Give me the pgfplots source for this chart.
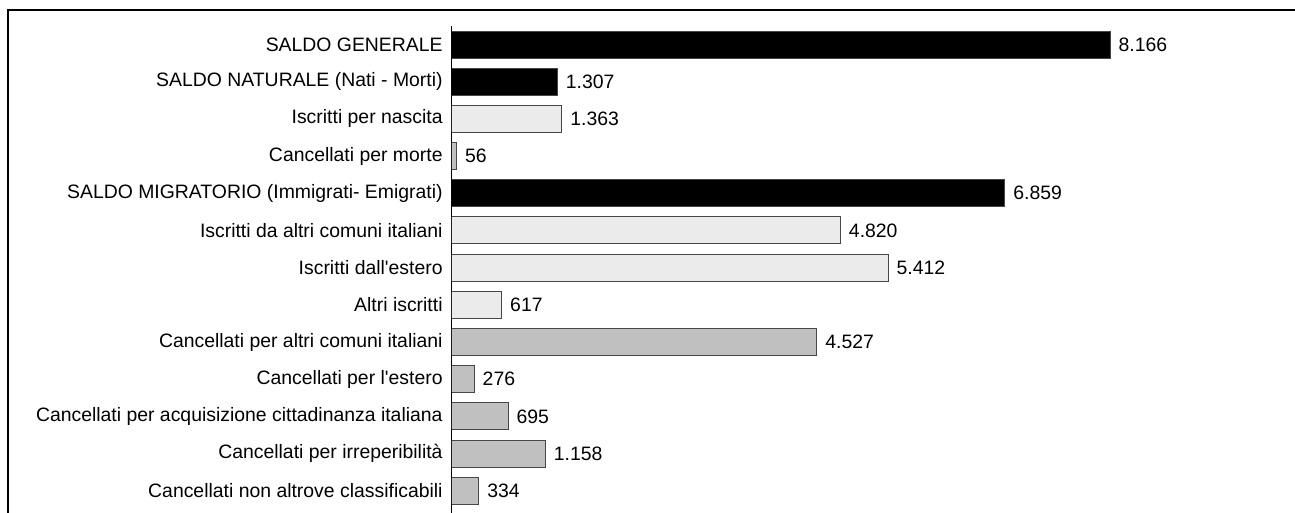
\documentclass[border=0pt]{standalone}
\usepackage{pgfplots}
\pgfplotsset{compat=1.18}
\usepackage{fontspec}
\setmainfont{Liberation Sans}[Ligatures=TeXOff]

\definecolor{chiaro}{RGB}{235,235,235}
\definecolor{medio}{RGB}{192,192,192}
\definecolor{bordo}{RGB}{70,70,70}

\begin{document}
\begin{tikzpicture}
\path[use as bounding box] (-226pt,0) rectangle (421.5pt,256.5pt);
\draw[line width=1pt] (-222pt,-1pt) -- (-222pt,251.5pt) -- (422pt,251.5pt);
\begin{axis}[
  at={(0pt,0pt)}, anchor=south west,
  scale only axis, width=403pt, height=243.5pt,
  xbar, bar width=13.5pt, bar shift=0pt,
  xmin=0, xmax=10000, ymin=-0.5, ymax=12.6,
  y dir=reverse,
  axis x line=none, axis y line*=left,
  axis line style={black, line width=0.5pt},
  ytick={0,...,12}, major tick length=0pt,
  yticklabels={SALDO GENERALE, SALDO NATURALE (Nati - Morti), Iscritti per nascita,
    Cancellati per morte, SALDO MIGRATORIO (Immigrati- Emigrati),
    Iscritti da altri comuni italiani, Iscritti dall'estero, Altri iscritti,
    Cancellati per altri comuni italiani, Cancellati per l'estero,
    Cancellati per acquisizione cittadinanza italiana,
    Cancellati per irreperibilità, Cancellati non altrove classificabili},
  yticklabel style={font=\fontsize{9.7}{11}\selectfont, anchor=east, inner sep=0pt, xshift=-4.5pt},
  point meta=x,
  nodes near coords,
  nodes near coords style={font=\fontsize{9.7}{11}\selectfont, anchor=west, inner sep=0pt, xshift=4pt, black},
  /pgf/number format/1000 sep={.},
  /pgf/number format/assume math mode=true,
  every axis plot/.append style={draw=bordo, line width=0.5pt},
]
\addplot[fill=black] coordinates {(8166,0) (1307,1) (6859,4)};
\addplot[fill=chiaro] coordinates {(1363,2) (4820,5) (5412,6) (617,7)};
\addplot[fill=medio] coordinates {(56,3) (4527,8) (276,9) (695,10) (1158,11) (334,12)};
\end{axis}
\end{tikzpicture}
\end{document}
